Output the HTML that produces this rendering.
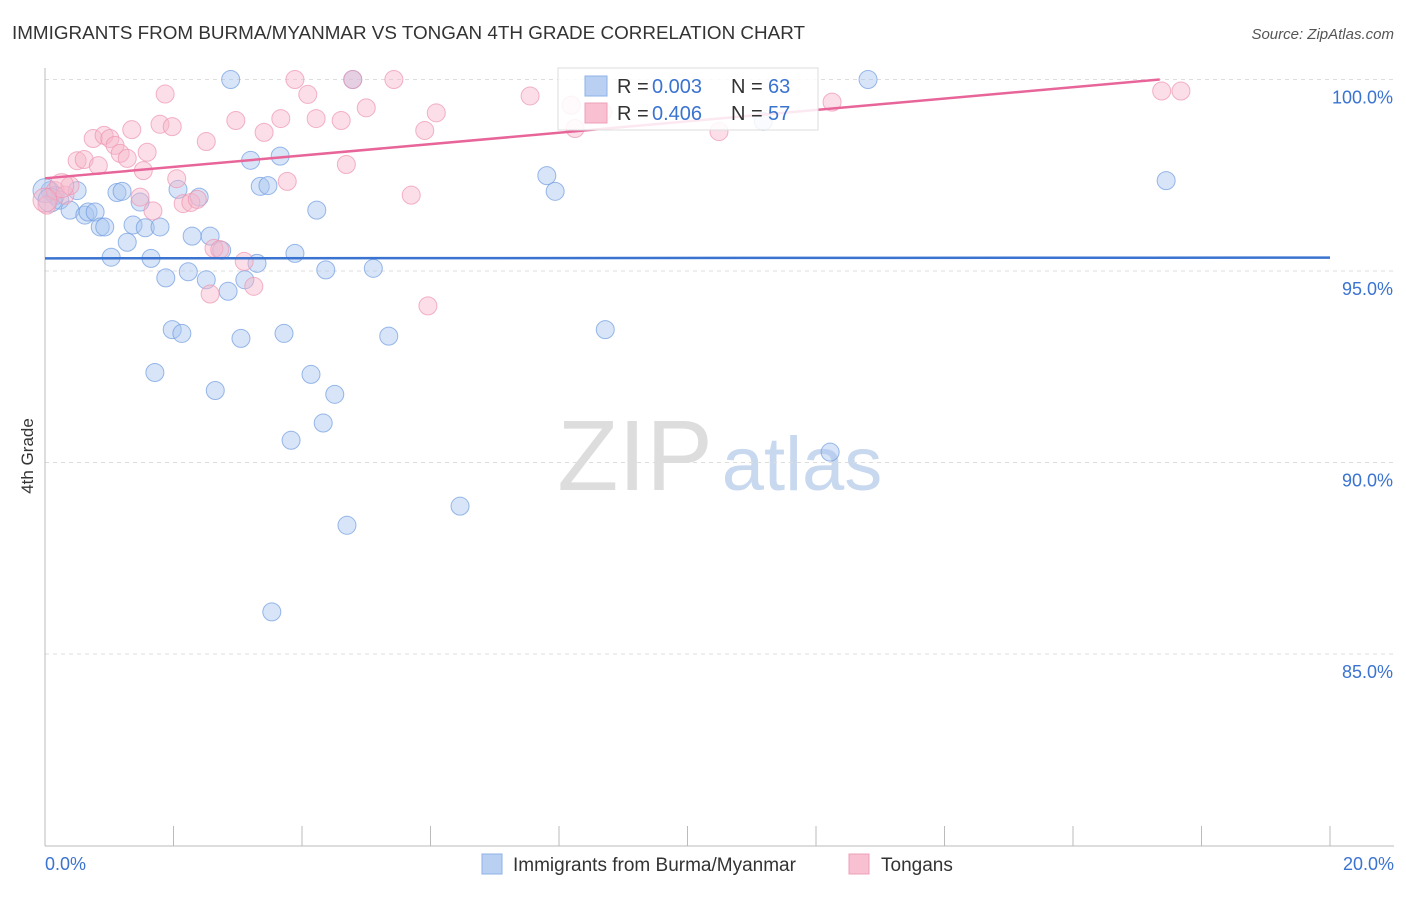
<!DOCTYPE html>
<html><head><meta charset="utf-8"><style>
body{margin:0;background:#fff;font-family:"Liberation Sans",sans-serif;}
svg text{font-family:"Liberation Sans",sans-serif;}
</style></head><body>
<svg id="chart" width="1406" height="892" xmlns="http://www.w3.org/2000/svg">
<text x="12" y="39" font-size="18" fill="#333" textLength="793" lengthAdjust="spacingAndGlyphs">IMMIGRANTS FROM BURMA/MYANMAR VS TONGAN 4TH GRADE CORRELATION CHART</text>
<text x="1394" y="39" font-size="15" fill="#555" font-style="italic" text-anchor="end">Source: ZipAtlas.com</text>
<text x="33" y="456" font-size="17" fill="#333" transform="rotate(-90 33 456)" text-anchor="middle">4th Grade</text>
<g><text x="635" y="490" font-size="100" fill="#ddd" font-family="Liberation Serif" text-anchor="middle">ZIP</text><text x="802" y="490" font-size="76" fill="#c8d8ef" text-anchor="middle">atlas</text></g>
<g id="grid"></g><g id="axes"></g><g id="pts"></g><g id="lines"></g>
<g>
<rect x="558" y="68" width="260" height="62" fill="#fff" fill-opacity="0.85" stroke="#ddd"/>
<rect x="585" y="76" width="22" height="20" fill="#b9d0f3" stroke="#8fb0e6"/>
<text x="617" y="93" font-size="20" fill="#333">R =</text><text x="652" y="93" font-size="20" fill="#3a73d0">0.003</text>
<text x="731" y="93" font-size="20" fill="#333">N =</text><text x="768" y="93" font-size="20" fill="#3a73d0">63</text>
<rect x="585" y="103" width="22" height="20" fill="#f8c0d0" stroke="#eea0b8"/>
<text x="617" y="120" font-size="20" fill="#333">R =</text><text x="652" y="120" font-size="20" fill="#3a73d0">0.406</text>
<text x="731" y="120" font-size="20" fill="#333">N =</text><text x="768" y="120" font-size="20" fill="#3a73d0">57</text>
</g>
<g>
<rect x="482" y="854" width="20" height="20" fill="#b9d0f3" stroke="#8fb0e6"/>
<text x="513" y="871" font-size="19" fill="#333">Immigrants from Burma/Myanmar</text>
<rect x="849" y="854" width="20" height="20" fill="#f8c0d0" stroke="#eea0b8"/>
<text x="881" y="871" font-size="19" fill="#333">Tongans</text>
</g>
</svg>
<script>
const yTicks=[100,95,90,85];
const xTickLabels=["0.0%","20.0%"];
const burmaX=[0.08,0.16,0.23,0.39,0.5,0.62,0.67,0.78,0.86,0.93,1.03,1.12,1.2,1.28,1.37,1.48,1.56,1.65,1.71,1.79,1.88,1.98,2.07,2.13,2.23,2.29,2.4,2.51,2.57,2.65,2.75,2.85,2.89,3.05,3.11,3.2,3.3,3.35,3.47,3.53,3.66,3.72,3.83,3.89,4.14,4.23,4.33,4.37,4.51,4.7,4.79,5.11,5.35,6.46,7.81,7.94,8.72,11.18,12.22,12.81,17.45,0,0.08];
const burmaY=[97.1,96.97,96.85,96.59,97.1,96.46,96.54,96.54,96.15,96.15,95.36,97.05,97.08,95.75,96.2,96.8,96.13,95.33,92.35,96.15,94.82,93.47,97.13,93.37,94.98,95.91,96.93,94.77,95.91,91.88,95.54,94.47,100,93.24,94.77,97.89,95.2,97.21,97.23,86.1,98.0,93.37,90.58,95.46,92.3,96.59,91.03,95.03,91.78,88.36,100,95.07,93.3,88.86,97.49,97.08,93.47,98.91,90.27,100,97.36,97.1,96.85];
const tonganX=[0.03,0.16,0.31,0.39,0.5,0.61,0.75,0.83,0.92,1.01,1.09,1.17,1.28,1.35,1.48,1.53,1.59,1.68,1.79,1.87,1.98,2.05,2.15,2.27,2.37,2.51,2.57,2.63,2.72,2.97,3.1,3.25,3.41,3.67,3.77,3.89,4.09,4.22,4.61,4.69,4.79,5.0,5.43,5.7,5.91,5.96,6.09,7.55,8.19,8.25,8.68,10.49,12.25,17.38,17.68,0.26,0];
const tonganY=[96.72,97.1,96.98,97.23,97.88,97.91,98.46,97.75,98.54,98.46,98.28,98.07,97.94,98.69,96.93,97.62,98.1,96.57,98.83,99.62,98.77,97.41,96.76,96.79,96.87,98.38,94.4,95.59,95.56,98.93,95.25,94.6,98.62,98.98,97.34,100,99.61,98.98,98.93,97.78,100,99.26,100,96.98,98.67,94.09,99.13,99.57,99.33,98.72,99.15,98.64,99.41,99.7,99.7,97.23,96.85];
const burmaLine=[95.33,95.35];
const tonganLine=[97.42,100.5];
const NS="http://www.w3.org/2000/svg";
const X0=45,X1=1330;
const sx=v=>X0+(v/20)*(X1-X0);
const sy=v=>79.5+(100-v)*38.3;
function mk(tag,attrs,parent){const e=document.createElementNS(NS,tag);for(const k in attrs)e.setAttribute(k,attrs[k]);document.getElementById(parent).appendChild(e);return e;}
yTicks.forEach(t=>{
 const l=mk('line',{x1:X0,x2:1394,y1:sy(t),y2:sy(t),stroke:'#ddd','stroke-dasharray':'4,4'},'grid');
 
 
 const tx=mk('text',{x:1393,y:sy(t)+24,'font-size':18,fill:'#3a73d0','text-anchor':'end'},'grid');
 tx.textContent=t.toFixed(1)+'%';
 
 
});
mk('line',{x1:X0,x2:X0,y1:68,y2:846,stroke:'#bbb'},'axes');
const xa=mk('line',{x1:X0,x2:1394,y1:846,y2:846,stroke:'#bbb'},'axes');


for(let i=0;i<=10;i++){const tk=mk('line',{x1:sx(i*2),x2:sx(i*2),y1:826,y2:846,stroke:'#bbb'},'axes');
 
 }
const t0=mk('text',{x:45,y:870,'font-size':18,fill:'#3a73d0'},'axes');t0.textContent=xTickLabels[0];


const t1=mk('text',{x:1394,y:870,'font-size':18,fill:'#3a73d0','text-anchor':'end'},'axes');t1.textContent=xTickLabels[1];


function pts(xs,ys,fill,stroke,name){xs.forEach((x,i)=>{const r=(i>=xs.length-2)?12:9;
 const c=mk('circle',{cx:sx(x),cy:sy(ys[i]),r:r,fill:fill,'fill-opacity':0.45,stroke:stroke,'stroke-opacity':0.7},'pts');
 
 });}
pts(burmaX,burmaY,'#a9c6f0','#6f9be0','burma-point');
pts(tonganX,tonganY,'#f7b6c9','#ee94b0','tongan-point');
const bl=mk('line',{x1:sx(0),x2:sx(20),y1:sy(burmaLine[0]),y2:sy(burmaLine[1]),stroke:'#3a73d0','stroke-width':2.5},'lines');


const xEnd=17.35;
const yEnd=tonganLine[0]+(tonganLine[1]-tonganLine[0])*xEnd/20;
const tl=mk('line',{x1:sx(0),x2:sx(xEnd),y1:sy(tonganLine[0]),y2:sy(Math.min(100,yEnd)),stroke:'#e8659a','stroke-width':2.5},'lines');


</script>
</body></html>
